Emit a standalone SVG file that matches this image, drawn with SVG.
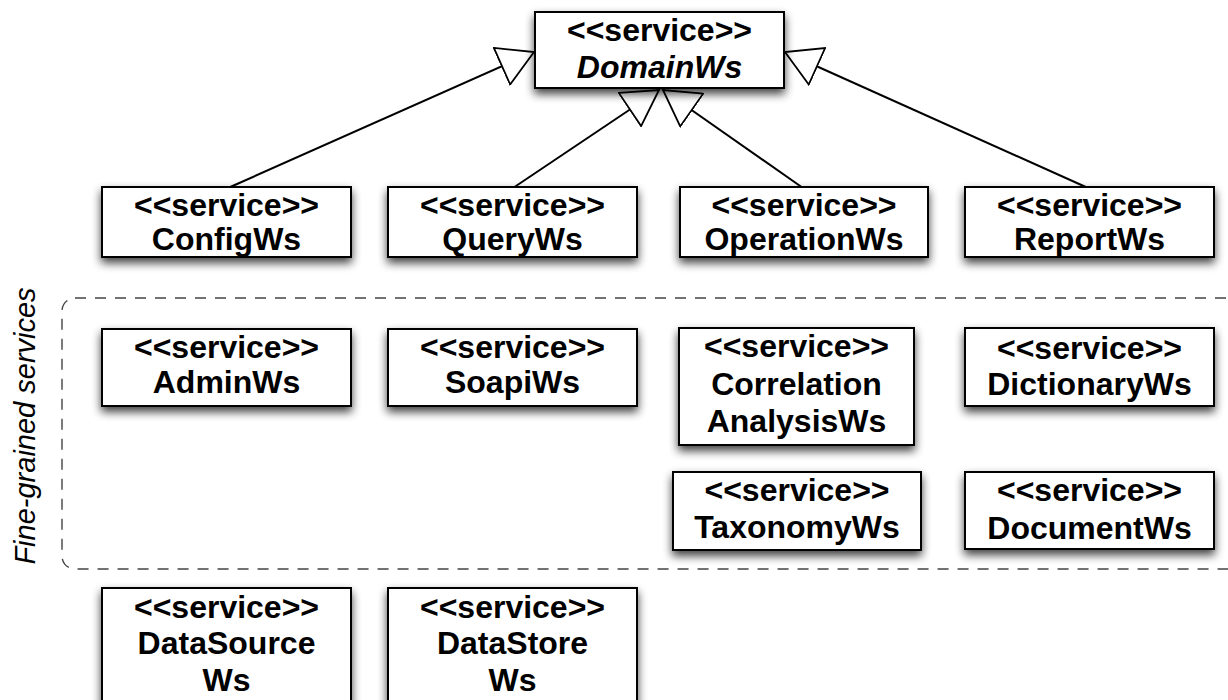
<svg xmlns="http://www.w3.org/2000/svg" width="1228" height="700" viewBox="0 0 1228 700">
  <style>
    .box { fill: #ffffff; stroke: #000000; stroke-width: 2; filter: url(#shadow); }
    .lbl { font-family: "Liberation Sans", Arial, Helvetica, sans-serif; font-weight: bold; font-size: 32px; fill: #000000; text-anchor: middle; }
    .it { font-style: italic; }
    .conn { stroke: #000000; stroke-width: 2; fill: none; marker-end: url(#gen); }
    .group { fill: none; stroke: #444444; stroke-width: 1.4; stroke-dasharray: 11 9; }
    .glabel { font-family: "Liberation Sans", Arial, Helvetica, sans-serif; font-style: italic; font-size: 29px; fill: #000000; text-anchor: middle; }
  </style>
  <defs>
    <filter id="shadow" x="-10%" y="-25%" width="125%" height="160%">
      <feGaussianBlur in="SourceAlpha" stdDeviation="5"/>
      <feOffset dx="0" dy="5" result="b"/>
      <feComponentTransfer><feFuncA type="linear" slope="0.75"/></feComponentTransfer>
      <feMerge><feMergeNode/><feMergeNode in="SourceGraphic"/></feMerge>
    </filter>
    <marker id="gen" viewBox="0 0 38 42" refX="36" refY="21" markerWidth="38" markerHeight="42" markerUnits="userSpaceOnUse" orient="auto">
      <path d="M1,1 L36,21 L1,41 Z" fill="#ffffff" stroke="#000000" stroke-width="1.8" stroke-linejoin="miter"/>
    </marker>
  </defs>
  <rect width="1228" height="700" fill="#ffffff"/>

  <g id="fine-grained-group">
    <rect class="group" x="62" y="298" width="1190" height="271" rx="13" ry="13"/>
    <text class="glabel" transform="translate(35,426) rotate(-90)">Fine-grained services</text>
  </g>

  <g id="connectors">
    <line class="conn" x1="228" y1="188" x2="534" y2="52"/>
    <line class="conn" x1="513" y1="188" x2="659" y2="90"/>
    <line class="conn" x1="803" y1="188" x2="663" y2="90"/>
    <line class="conn" x1="1088" y1="188" x2="785" y2="52"/>
  </g>

  <g id="DomainWs">
    <rect class="box" x="535" y="12" width="249" height="76"/>
    <text class="lbl" x="659.5" y="41">&lt;&lt;service&gt;&gt;</text>
    <text class="lbl it" x="659.5" y="78">DomainWs</text>
  </g>

  <g id="ConfigWs">
    <rect class="box" x="102" y="187" width="249" height="70"/>
    <text class="lbl" x="226.5" y="216">&lt;&lt;service&gt;&gt;</text>
    <text class="lbl" x="226.5" y="250">ConfigWs</text>
  </g>
  <g id="QueryWs">
    <rect class="box" x="388" y="187" width="249" height="70"/>
    <text class="lbl" x="512.5" y="216">&lt;&lt;service&gt;&gt;</text>
    <text class="lbl" x="512.5" y="250">QueryWs</text>
  </g>
  <g id="OperationWs">
    <rect class="box" x="680" y="187" width="248" height="70"/>
    <text class="lbl" x="804" y="216">&lt;&lt;service&gt;&gt;</text>
    <text class="lbl" x="804" y="250">OperationWs</text>
  </g>
  <g id="ReportWs">
    <rect class="box" x="965" y="187" width="249" height="70"/>
    <text class="lbl" x="1089.5" y="216">&lt;&lt;service&gt;&gt;</text>
    <text class="lbl" x="1089.5" y="250">ReportWs</text>
  </g>

  <g id="AdminWs">
    <rect class="box" x="102" y="329" width="249" height="77"/>
    <text class="lbl" x="226.5" y="358">&lt;&lt;service&gt;&gt;</text>
    <text class="lbl" x="226.5" y="393">AdminWs</text>
  </g>
  <g id="SoapiWs">
    <rect class="box" x="388" y="329" width="249" height="77"/>
    <text class="lbl" x="512.5" y="358">&lt;&lt;service&gt;&gt;</text>
    <text class="lbl" x="512.5" y="393">SoapiWs</text>
  </g>
  <g id="CorrelationAnalysisWs">
    <rect class="box" x="679" y="328" width="235" height="117"/>
    <text class="lbl" x="796.5" y="357">&lt;&lt;service&gt;&gt;</text>
    <text class="lbl" x="796.5" y="395">Correlation</text>
    <text class="lbl" x="796.5" y="432">AnalysisWs</text>
  </g>
  <g id="DictionaryWs">
    <rect class="box" x="965" y="328" width="249" height="78"/>
    <text class="lbl" x="1089.5" y="359">&lt;&lt;service&gt;&gt;</text>
    <text class="lbl" x="1089.5" y="395">DictionaryWs</text>
  </g>
  <g id="TaxonomyWs">
    <rect class="box" x="673" y="472" width="248" height="78"/>
    <text class="lbl" x="797" y="501">&lt;&lt;service&gt;&gt;</text>
    <text class="lbl" x="797" y="538">TaxonomyWs</text>
  </g>
  <g id="DocumentWs">
    <rect class="box" x="965" y="472" width="249" height="77"/>
    <text class="lbl" x="1089.5" y="501">&lt;&lt;service&gt;&gt;</text>
    <text class="lbl" x="1089.5" y="539">DocumentWs</text>
  </g>

  <g id="DataSourceWs">
    <rect class="box" x="102" y="588" width="249" height="130"/>
    <text class="lbl" x="226.5" y="618">&lt;&lt;service&gt;&gt;</text>
    <text class="lbl" x="226.5" y="654">DataSource</text>
    <text class="lbl" x="226.5" y="691">Ws</text>
  </g>
  <g id="DataStoreWs">
    <rect class="box" x="388" y="588" width="249" height="130"/>
    <text class="lbl" x="512.5" y="618">&lt;&lt;service&gt;&gt;</text>
    <text class="lbl" x="512.5" y="654">DataStore</text>
    <text class="lbl" x="512.5" y="691">Ws</text>
  </g>
</svg>
